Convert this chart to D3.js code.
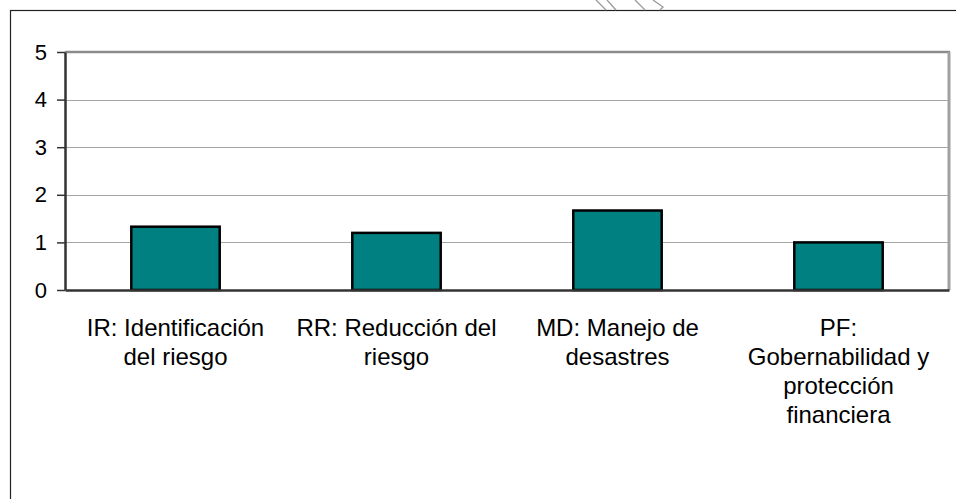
<!DOCTYPE html>
<html>
<head>
<meta charset="utf-8">
<script src="https://cdn.jsdelivr.net/npm/d3@7"></script>
<style>
  html, body { margin: 0; padding: 0; background: #fff; }
  svg { display: block; }
</style>
</head>
<body>
<script>
const categories = [
  ["IR: Identificación", "del riesgo"],
  ["RR: Reducción del", "riesgo"],
  ["MD: Manejo de", "desastres"],
  ["PF:", "Gobernabilidad y", "protección", "financiera"]
];
const categoryKeys = ["IR", "RR", "MD", "PF"];
const values = [1.33, 1.2, 1.67, 1.0];
const yTicks = [0, 1, 2, 3, 4, 5];

const W = 956, H = 499;
const plot = { left: 65, right: 949, top: 52, bottom: 290 };

const svg = d3.select("body").append("svg")
  .attr("width", W).attr("height", H);

// outer chart border (partly cut off)
svg.append("rect")
  .attr("x", 10.5).attr("y", 10.5)
  .attr("width", W + 20).attr("height", H + 20)
  .attr("fill", "none").attr("stroke", "#222").attr("stroke-width", 1.2);

// hatched decoration at top
const hatch = svg.append("g").attr("stroke", "#999").attr("stroke-width", 1.3).attr("fill", "none");
[[596, 606], [607, 616], [635, 645]].forEach(([x0, x1]) => {
  hatch.append("line").attr("x1", x0).attr("y1", 0).attr("x2", x1).attr("y2", 10);
});
hatch.append("path").attr("d", "M653,0 L663,7 L660,10");

const x = d3.scaleBand()
  .domain(categoryKeys)
  .range([plot.left, plot.right])
  .paddingInner(0.6).paddingOuter(0.3);

const y = d3.scaleLinear().domain([0, 5]).range([plot.bottom, plot.top]);

// gridlines
svg.append("g")
  .selectAll("line")
  .data(yTicks.filter(d => d > 0 && d < 5))
  .join("line")
  .attr("x1", plot.left).attr("x2", plot.right)
  .attr("y1", d => Math.round(y(d)) + 0.5).attr("y2", d => Math.round(y(d)) + 0.5)
  .attr("stroke", "#a6a6a6").attr("stroke-width", 1);

// plot area top / right border
svg.append("line")
  .attr("x1", plot.left).attr("x2", plot.right + 1)
  .attr("y1", y(5)).attr("y2", y(5))
  .attr("stroke", "#8c8c8c").attr("stroke-width", 2.5);
svg.append("line")
  .attr("x1", plot.right).attr("x2", plot.right)
  .attr("y1", y(5)).attr("y2", plot.bottom)
  .attr("stroke", "#a0a0a0").attr("stroke-width", 3);

// bars
svg.append("g")
  .selectAll("rect")
  .data(values)
  .join("rect")
  .attr("x", (d, i) => x(categoryKeys[i]))
  .attr("width", x.bandwidth())
  .attr("y", d => y(d))
  .attr("height", d => y(0) - y(d))
  .attr("fill", "#008080")
  .attr("stroke", "#000").attr("stroke-width", 2.5);

// y axis
const yAxis = svg.append("g")
  .attr("transform", `translate(${plot.left},0)`)
  .call(d3.axisLeft(y).tickValues(yTicks).tickFormat(d3.format("d"))
    .tickSize(8).tickPadding(10).tickSizeOuter(0));
yAxis.select(".domain").attr("stroke", "#333").attr("stroke-width", 2.5);
yAxis.selectAll(".tick line").attr("stroke", "#333").attr("stroke-width", 1.5);
yAxis.selectAll(".tick text")
  .attr("font-family", "Liberation Sans, Arial, sans-serif")
  .attr("font-size", 22).attr("fill", "#000");

// x axis baseline
const xAxis = svg.append("g")
  .attr("transform", `translate(0,${plot.bottom})`)
  .call(d3.axisBottom(x).tickSize(0).tickFormat(""));
xAxis.select(".domain").attr("stroke", "#333").attr("stroke-width", 2.5);

// category labels
const labels = svg.append("g")
  .attr("font-family", "Liberation Sans, Arial, sans-serif")
  .attr("font-size", 24).attr("fill", "#000").attr("text-anchor", "middle");
categories.forEach((lines, i) => {
  const cx = x(categoryKeys[i]) + x.bandwidth() / 2;
  const t = labels.append("text").attr("x", cx).attr("y", 336);
  lines.forEach((ln, j) => {
    t.append("tspan").attr("x", cx).attr("dy", j === 0 ? 0 : 29).text(ln);
  });
});
</script>
</body>
</html>
